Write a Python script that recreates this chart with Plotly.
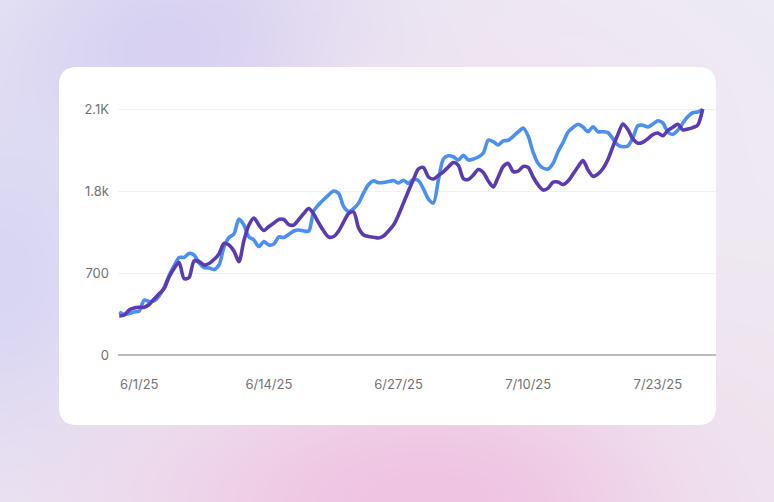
import base64
import struct
import zlib

import numpy as np
import pandas as pd
import plotly.graph_objects as go

# ---------------- data ----------------
start_date = "2025-05-30"
n_points = 118  # 12-hour samples

series_a_name = "Series A"
series_a = [370, 349, 357, 370, 378, 472, 460, 464, 507, 579,
            682, 763, 836, 836, 870, 857, 789, 750, 746, 733,
            771, 925, 1006, 1036, 1164, 1113, 1012, 985, 929, 972,
            942, 951, 1011, 1006, 1032, 1062, 1070, 1062, 1062, 1233,
            1288, 1331, 1371, 1404, 1382, 1271, 1228, 1254, 1301, 1388,
            1459, 1491, 1474, 1476, 1484, 1493, 1472, 1495, 1469, 1504,
            1492, 1421, 1335, 1301, 1498, 1677, 1704, 1696, 1668, 1709,
            1668, 1677, 1694, 1728, 1839, 1826, 1797, 1831, 1837, 1871,
            1908, 1942, 1873, 1733, 1639, 1600, 1592, 1640, 1741, 1818,
            1908, 1946, 1974, 1950, 1910, 1953, 1910, 1910, 1902, 1850,
            1797, 1782, 1788, 1859, 1961, 1966, 1950, 1976, 2003, 1985,
            1908, 1888, 1923, 1982, 2037, 2072, 2079, 2100]

series_b_name = "Series B"
series_b = [336, 344, 387, 404, 410, 410, 434, 481, 525, 571,
            669, 742, 793, 655, 665, 806, 801, 771, 784, 818,
            865, 955, 942, 891, 800, 981, 1113, 1173, 1113, 1066,
            1100, 1130, 1160, 1160, 1117, 1113, 1160, 1211, 1254, 1207,
            1130, 1062, 1011, 1015, 1062, 1139, 1211, 1224, 1088, 1028,
            1015, 1009, 1002, 1019, 1062, 1113, 1199, 1301, 1404, 1502,
            1592, 1604, 1523, 1506, 1536, 1568, 1609, 1647, 1623, 1510,
            1502, 1540, 1587, 1562, 1489, 1438, 1523, 1613, 1639, 1570,
            1574, 1613, 1604, 1523, 1455, 1412, 1428, 1480, 1480, 1459,
            1489, 1549, 1611, 1664, 1583, 1529, 1549, 1596, 1673, 1784,
            1886, 1976, 1929, 1848, 1812, 1820, 1850, 1885, 1899, 1875,
            1920, 1948, 1974, 1926, 1933, 1945, 1967, 2104]

y_tick_values = [0, 700, 1400, 2100]
y_tick_labels = ["0", "700", "1.8k", "2.1K"]
x_tick_dates = ["2025-06-01", "2025-06-14", "2025-06-27", "2025-07-10", "2025-07-23"]
x_tick_labels = ["6/1/25", "6/14/25", "6/27/25", "7/10/25", "7/23/25"]

dates = pd.date_range(start_date, periods=n_points, freq="12h")

# ---------------- styling ----------------
W, H = 774, 502
BLUE = "#4a8ff2"
PURPLE = "#5b3bb1"
TICK_COLOR = "#737373"
FONT = "Inter"


def px_x(x):
    return x / W


def px_y(y):
    return 1 - y / H


# background gradient image
def make_background():
    w, h = W // 2, H // 2
    yy, xx = np.mgrid[0:h, 0:w].astype(float)
    xx *= 2
    yy *= 2
    img = np.zeros((h, w, 3)) + np.array([237, 235, 244], float)
    blobs = [
        (190, 55, 140, 95, (212, 206, 242), 1.0),
        (0, 270, 95, 130, (214, 212, 244), 0.9),
        (480, 110, 180, 100, (242, 228, 240), 0.7),
        (430, 505, 220, 105, (240, 195, 226), 1.0),
        (774, 430, 110, 140, (241, 228, 238), 0.6),
    ]
    for cx, cy, sx, sy, col, s in blobs:
        wgt = s * np.exp(-(((xx - cx) ** 2) / (2 * sx ** 2) + ((yy - cy) ** 2) / (2 * sy ** 2)))
        wgt = wgt[..., None]
        img = img * (1 - wgt) + np.array(col, float) * wgt
    arr = np.clip(img, 0, 255).astype(np.uint8)
    raw = b"".join(b"\x00" + arr[r].tobytes() for r in range(h))

    def chunk(tag, data):
        c = struct.pack(">I", len(data)) + tag + data
        return c + struct.pack(">I", zlib.crc32(tag + data) & 0xFFFFFFFF)

    png = b"\x89PNG\r\n\x1a\n"
    png += chunk(b"IHDR", struct.pack(">IIBBBBB", w, h, 8, 2, 0, 0, 0))
    png += chunk(b"IDAT", zlib.compress(raw, 9))
    png += chunk(b"IEND", b"")
    return "data:image/png;base64," + base64.b64encode(png).decode()


def rounded_rect(x0, y0, x1, y1, r):
    X0, X1 = px_x(x0), px_x(x1)
    Y0, Y1 = px_y(y0), px_y(y1)
    rx, ry = r / W, r / H
    return (f"M {X0+rx},{Y0} L {X1-rx},{Y0} Q {X1},{Y0} {X1},{Y0-ry} "
            f"L {X1},{Y1+ry} Q {X1},{Y1} {X1-rx},{Y1} "
            f"L {X0+rx},{Y1} Q {X0},{Y1} {X0},{Y1+ry} "
            f"L {X0},{Y0-ry} Q {X0},{Y0} {X0+rx},{Y0} Z")


fig = go.Figure()
fig.add_trace(go.Scatter(x=dates, y=series_a, name=series_a_name, mode="lines",
                         line=dict(color=BLUE, width=3.6, shape="spline", smoothing=0.8)))
fig.add_trace(go.Scatter(x=dates, y=series_b, name=series_b_name, mode="lines",
                         line=dict(color=PURPLE, width=3.6, shape="spline", smoothing=0.8)))

fig.update_layout(
    width=W, height=H,
    margin=dict(l=0, r=0, t=0, b=0),
    paper_bgcolor="#eeebf4",
    plot_bgcolor="rgba(0,0,0,0)",
    showlegend=False,
    font=dict(family=FONT, size=13, color=TICK_COLOR),
    images=[dict(source=make_background(), xref="paper", yref="paper",
                 x=0, y=1, sizex=1, sizey=1, xanchor="left", yanchor="top",
                 sizing="stretch", layer="below")],
    shapes=[dict(type="path", xref="paper", yref="paper",
                 path=rounded_rect(59, 67, 716, 425, 18),
                 fillcolor="#ffffff", line=dict(width=0), layer="below")],
    xaxis=dict(
        domain=[px_x(118), px_x(716)],
        range=["2025-05-29 21:00", "2025-07-28 20:00"],
        tickvals=x_tick_dates, ticktext=x_tick_labels,
        showgrid=False, zeroline=False, showline=False, ticks="",
        ticklabelstandoff=20, automargin=False,
        tickfont=dict(family=FONT, size=13, color=TICK_COLOR),
    ),
    yaxis=dict(
        domain=[px_y(355.3), px_y(100)],
        range=[0, 2181],
        tickvals=y_tick_values, ticktext=y_tick_labels,
        showgrid=True, gridcolor="#f1f1f3", gridwidth=1,
        zeroline=True, zerolinecolor="#bcbcbc", zerolinewidth=1.5,
        showline=False, ticks="", ticklabelstandoff=8, automargin=False,
        tickfont=dict(family=FONT, size=13, color=TICK_COLOR),
    ),
)

fig.write_html("out.html", config={"displayModeBar": False},
               post_script="document.body.style.margin='0';document.body.style.overflow='hidden';")
